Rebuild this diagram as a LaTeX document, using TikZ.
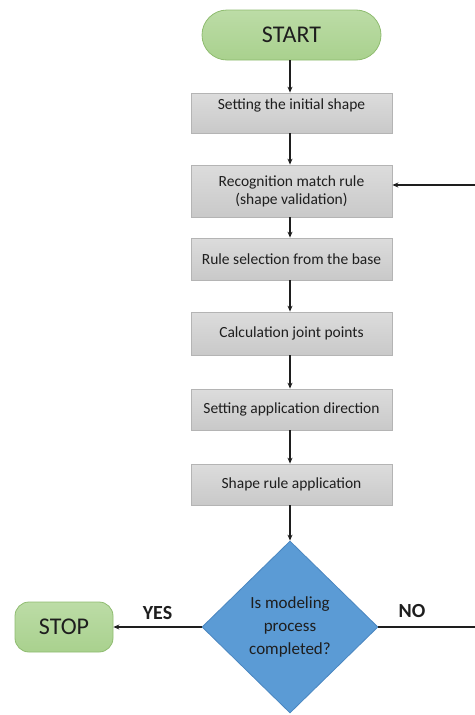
\documentclass[tikz,border=0pt]{standalone}
\usepackage{fontspec}
\setmainfont{Carlito}
\usetikzlibrary{shapes.geometric,arrows.meta}

\definecolor{termfill}{HTML}{A9D18E}
\definecolor{termtop}{HTML}{BCDCA6}
\definecolor{termedge}{HTML}{8FBC70}
\definecolor{stepfill}{HTML}{C9C9C9}
\definecolor{steptop}{HTML}{DCDCDC}
\definecolor{stepedge}{HTML}{B4B4B4}
\definecolor{decfill}{HTML}{5B9BD5}
\definecolor{decedge}{HTML}{4A86C0}
\definecolor{ink}{HTML}{1E1E1E}

\tikzset{
  terminal/.style={rectangle, draw=termedge, line width=0.8pt,
    top color=termtop, bottom color=termfill, text=ink,
    font=\fontsize{24}{26}\selectfont, inner sep=0pt},
  stepbox/.style={rectangle, draw=stepedge, line width=0.8pt,
    top color=steptop, bottom color=stepfill, text=ink,
    minimum width=201pt, inner sep=0pt, align=center,
    font=\fontsize{15.5}{18}\selectfont},
  decision/.style={diamond, draw=decedge, line width=0.8pt, fill=decfill,
    text=ink, align=center, inner sep=0pt, aspect=1,
    minimum width=176pt, minimum height=172pt,
    font=\fontsize{17}{23}\selectfont},
  flow/.style={draw=ink, line width=1.1pt, -{Stealth[length=6pt,width=5pt]}},
  answer/.style={font=\fontsize{20}{22}\selectfont\bfseries, text=ink}
}

\begin{document}
\begin{tikzpicture}[x=1pt,y=-1pt]
  \useasboundingbox (0,0) rectangle (474,715);

  % terminals
  \node[terminal, minimum width=179pt, minimum height=50pt, rounded corners=25pt]
    (start) at (291.5,35) {START};
  \node[terminal, minimum width=98pt, minimum height=50pt, rounded corners=14pt]
    (stop) at (64,627) {STOP};

  % process steps
  \node[stepbox, minimum height=40pt, text depth=17pt] (s1) at (291.5,113) {Setting the initial shape};
  \node[stepbox, minimum height=52pt] (s2) at (291.5,191)
    {Recognition match rule\\[0pt](shape validation)};
  \node[stepbox, minimum height=42pt] (s3) at (291.5,259) {Rule selection from the base};
  \node[stepbox, minimum height=43pt] (s4) at (291.5,333.5) {Calculation joint points};
  \node[stepbox, minimum height=41pt] (s5) at (291.5,409.5) {Setting application direction};
  \node[stepbox, minimum height=41pt] (s6) at (291.5,484.5) {Shape rule application};

  % decision
  \node[decision] (dec) at (290,627) {Is modeling\\process\\completed?};

  % main flow
  \draw[flow] (start.south -| 290,0) -- (s1.north -| 290,0);
  \draw[flow] (s1.south -| 290,0) -- (s2.north -| 290,0);
  \draw[flow] (s2.south -| 290,0) -- (s3.north -| 290,0);
  \draw[flow] (s3.south -| 290,0) -- (s4.north -| 290,0);
  \draw[flow] (s4.south -| 290,0) -- (s5.north -| 290,0);
  \draw[flow] (s5.south -| 290,0) -- (s6.north -| 290,0);
  \draw[flow] (s6.south -| 290,0) -- (dec.north);

  % outcomes
  \draw[flow] (dec.west) -- (stop.east) node[answer, midway, above=3pt] {YES};
  \coordinate (loop) at (480,185);
  \draw[flow] (dec.east) -| (loop) -- (s2.east |- loop);
  \node[answer] (no) at (412,611) {NO};
\end{tikzpicture}
\end{document}
